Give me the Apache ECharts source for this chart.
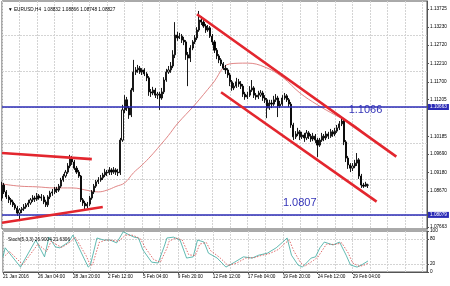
<!DOCTYPE html>
<html><head><meta charset="utf-8">
<script src="https://cdn.jsdelivr.net/npm/echarts@6/dist/echarts.min.js"></script>
<style>html,body{margin:0;padding:0;background:#fff}#c{width:450px;height:286px}</style>
</head><body><div id="c"></div>
<script>
// ---- data ----
const timeLabels = ['21 Jan 2016','26 Jan 04:00','28 Jan 20:00','2 Feb 12:00','5 Feb 04:00','9 Feb 20:00','12 Feb 12:00','17 Feb 04:00','19 Feb 20:00','24 Feb 12:00','29 Feb 04:00'];
const slotCount = 195; // bar slots incl. empty right margin
const opens = [
1.0847,1.0883,1.0864,1.0850,1.0842,1.0836,1.0828,1.0819,1.0805,1.0814,
1.0817,1.0822,1.0828,1.0833,1.0842,1.0847,1.0844,1.0853,1.0847,1.0850,
1.0836,1.0828,1.0850,1.0861,1.0864,1.0872,1.0869,1.0880,1.0897,1.0908,
1.0919,1.0936,1.0958,1.0947,1.0930,1.0919,1.0908,1.0842,1.0833,1.0825,
1.0830,1.0847,1.0864,1.0880,1.0892,1.0897,1.0903,1.0911,1.0919,1.0917,
1.0925,1.0919,1.0925,1.0919,1.0917,1.1008,1.1092,1.1120,1.1097,1.1078,
1.1147,1.1197,1.1203,1.1208,1.1197,1.1203,1.1192,1.1181,1.1142,1.1139,
1.1147,1.1133,1.1136,1.1125,1.1142,1.1175,1.1197,1.1203,1.1214,1.1245,
1.1300,1.1292,1.1297,1.1286,1.1281,1.1245,1.1236,1.1264,1.1281,1.1292,
1.1314,1.1342,1.1336,1.1325,1.1314,1.1320,1.1297,1.1281,1.1258,1.1242,
1.1231,1.1220,1.1208,1.1203,1.1189,1.1170,1.1153,1.1158,1.1170,1.1164,
1.1158,1.1136,1.1128,1.1133,1.1147,1.1153,1.1133,1.1128,1.1133,1.1139,
1.1125,1.1120,1.1097,1.1111,1.1108,1.1120,1.1125,1.1103,1.1108,1.1125,
1.1131,1.1120,1.1108,1.1050,1.1017,1.1025,1.1031,1.1017,1.1022,1.1014,
1.1028,1.1019,1.1011,1.1019,1.1008,1.0994,1.1008,1.1019,1.1014,1.1025,
1.1019,1.1031,1.1025,1.1033,1.1042,1.1053,1.1061,1.1003,1.0958,1.0939,
1.0930,1.0936,1.0944,1.0953,1.0908,1.0883,1.0880,1.08832];
const closes = [
1.0883,1.0864,1.0850,1.0842,1.0836,1.0828,1.0819,1.0805,1.0814,1.0817,
1.0822,1.0828,1.0833,1.0842,1.0847,1.0844,1.0853,1.0847,1.0850,1.0836,
1.0828,1.0850,1.0861,1.0864,1.0872,1.0869,1.0880,1.0897,1.0908,1.0919,
1.0936,1.0958,1.0947,1.0930,1.0919,1.0908,1.0842,1.0833,1.0825,1.0830,
1.0847,1.0864,1.0880,1.0892,1.0897,1.0903,1.0911,1.0919,1.0917,1.0925,
1.0919,1.0925,1.0919,1.0917,1.1008,1.1092,1.1120,1.1097,1.1078,1.1147,
1.1197,1.1203,1.1208,1.1197,1.1203,1.1192,1.1181,1.1142,1.1139,1.1147,
1.1133,1.1136,1.1125,1.1142,1.1175,1.1197,1.1203,1.1214,1.1245,1.1300,
1.1292,1.1297,1.1286,1.1281,1.1245,1.1236,1.1264,1.1281,1.1292,1.1314,
1.1342,1.1336,1.1325,1.1314,1.1320,1.1297,1.1281,1.1258,1.1242,1.1231,
1.1220,1.1208,1.1203,1.1189,1.1170,1.1153,1.1158,1.1170,1.1164,1.1158,
1.1136,1.1128,1.1133,1.1147,1.1153,1.1133,1.1128,1.1133,1.1139,1.1125,
1.1120,1.1097,1.1111,1.1108,1.1120,1.1125,1.1103,1.1108,1.1125,1.1131,
1.1120,1.1108,1.1050,1.1017,1.1025,1.1031,1.1017,1.1022,1.1014,1.1028,
1.1019,1.1011,1.1019,1.1008,1.0994,1.1008,1.1019,1.1014,1.1025,1.1019,
1.1031,1.1025,1.1033,1.1042,1.1053,1.1061,1.1003,1.0958,1.0939,1.0930,
1.0936,1.0944,1.0953,1.0908,1.0883,1.0880,1.0886,1.08827];
const lows = [
1.0839,1.0858,1.0844,1.0833,1.0828,1.0822,1.0814,1.0797,1.0786,1.0805,
1.0811,1.0817,1.0822,1.0828,1.0836,1.0836,1.0839,1.0842,1.0839,1.0830,
1.0822,1.0822,1.0844,1.0853,1.0858,1.0861,1.0864,1.0875,1.0892,1.0903,
1.0914,1.0930,1.0939,1.0925,1.0914,1.0903,1.0836,1.0825,1.0814,1.0819,
1.0825,1.0842,1.0858,1.0875,1.0886,1.0892,1.0897,1.0905,1.0908,1.0911,
1.0911,1.0914,1.0911,1.0908,1.0911,1.1003,1.1083,1.1089,1.1067,1.1072,
1.1142,1.1189,1.1195,1.1192,1.1189,1.1186,1.1172,1.1131,1.1128,1.1133,
1.1125,1.1122,1.1092,1.1120,1.1136,1.1170,1.1192,1.1195,1.1208,1.1236,
1.1284,1.1289,1.1278,1.1272,1.1231,1.1158,1.1225,1.1258,1.1275,1.1286,
1.1309,1.1328,1.1320,1.1306,1.1309,1.1292,1.1272,1.1250,1.1233,1.1222,
1.1214,1.1203,1.1192,1.1181,1.1158,1.1145,1.1147,1.1153,1.1156,1.1150,
1.1128,1.1120,1.1122,1.1128,1.1142,1.1125,1.1120,1.1122,1.1128,1.1117,
1.1111,1.1069,1.1092,1.1097,1.1103,1.1114,1.1072,1.1097,1.1103,1.1120,
1.1114,1.1100,1.1042,1.1008,1.1011,1.1019,1.1008,1.1011,1.1003,1.1008,
1.1011,1.1003,1.1005,1.1000,1.0961,1.0989,1.1003,1.1005,1.1008,1.1011,
1.1014,1.1017,1.1019,1.1028,1.1036,1.1047,1.0994,1.0947,1.0928,1.0919,
1.0922,1.0930,1.0936,1.0900,1.0875,1.0875,1.0878,1.08748];
const highs = [
1.0892,1.0889,1.0869,1.0855,1.0847,1.0842,1.0833,1.0825,1.0819,1.0822,
1.0830,1.0833,1.0842,1.0847,1.0855,1.0853,1.0861,1.0858,1.0858,1.0855,
1.0842,1.0855,1.0867,1.0872,1.0878,1.0878,1.0886,1.0903,1.0914,1.0925,
1.0944,1.0967,1.0964,1.0953,1.0936,1.0925,1.0911,1.0847,1.0839,1.0836,
1.0853,1.0869,1.0886,1.0897,1.0905,1.0911,1.0917,1.0928,1.0925,1.0933,
1.0930,1.0933,1.0930,1.0928,1.1014,1.1106,1.1133,1.1128,1.1103,1.1153,
1.1231,1.1211,1.1217,1.1214,1.1208,1.1208,1.1197,1.1186,1.1150,1.1156,
1.1153,1.1142,1.1142,1.1153,1.1183,1.1206,1.1214,1.1225,1.1258,1.1336,
1.1309,1.1306,1.1303,1.1295,1.1286,1.1253,1.1272,1.1286,1.1300,1.1322,
1.1367,1.1353,1.1345,1.1331,1.1328,1.1325,1.1303,1.1286,1.1264,1.1247,
1.1236,1.1225,1.1217,1.1208,1.1195,1.1175,1.1167,1.1181,1.1178,1.1172,
1.1164,1.1142,1.1142,1.1158,1.1175,1.1158,1.1139,1.1145,1.1147,1.1145,
1.1133,1.1125,1.1120,1.1120,1.1131,1.1136,1.1131,1.1117,1.1133,1.1139,
1.1136,1.1125,1.1114,1.1056,1.1033,1.1042,1.1036,1.1031,1.1028,1.1036,
1.1033,1.1025,1.1028,1.1025,1.1014,1.1014,1.1028,1.1025,1.1033,1.1031,
1.1039,1.1036,1.1042,1.1050,1.1061,1.1072,1.1067,1.1008,1.0964,1.0944,
1.0944,1.0953,1.0972,1.0958,1.0914,1.0889,1.0892,1.08866];
const maPoints = [[0,1.0886],[8,1.0880],[16,1.0878],[24,1.0875],[32,1.0875],[40,1.0867],[44,1.0864],[48,1.0869],[52,1.0879],[56,1.0889],[60,1.0917],[64,1.0939],[68,1.0964],[72,1.0992],[76,1.1021],[80,1.1053],[88,1.1106],[96,1.1164],[104,1.1220],[112,1.1222],[120,1.1211],[128,1.1183],[136,1.1139],[144,1.1106],[152,1.1078],[160,1.1053],[167,1.1019]];
const stochMain = [[0,37],[1,59],[8,12],[15,78],[19,37],[21,85],[24,61],[26,59],[30,73],[32,90],[37,34],[39,12],[40,17],[43,83],[46,78],[49,78],[52,71],[55,98],[58,90],[60,85],[62,83],[64,54],[68,24],[71,22],[74,66],[75,83],[78,85],[81,78],[84,34],[87,37],[89,78],[92,73],[94,46],[98,34],[102,12],[106,24],[110,37],[114,34],[117,41],[121,46],[125,59],[128,73],[130,83],[132,41],[135,17],[137,12],[141,34],[143,37],[145,59],[147,73],[151,66],[154,73],[157,41],[159,17],[162,12],[164,17],[167,26.9]];
const stochSignal = [[1,40],[3,50],[9,18],[16,68],[20,50],[22,75],[25,65],[27,60],[31,74],[33,85],[38,40],[40,16],[41,18],[44,72],[47,78],[50,77],[53,75],[56,90],[59,90],[61,86],[63,80],[65,60],[69,30],[72,24],[75,58],[76,75],[79,83],[82,78],[85,42],[88,40],[90,68],[93,72],[95,52],[99,36],[103,16],[107,22],[111,34],[115,35],[118,40],[122,45],[126,55],[129,70],[131,78],[133,52],[136,24],[138,14],[142,28],[144,36],[146,52],[148,68],[152,67],[155,71],[158,46],[160,22],[163,14],[165,16],[167,21.6]];
const priceTicks = [1.13725,1.13230,1.12720,1.12210,1.11700,1.11205,1.10185,1.09690,1.09180,1.08670,1.07663];
const priceGrid = [1.13725,1.13230,1.12720,1.12210,1.11700,1.11205,1.10695,1.10185,1.09690,1.09180,1.08670,1.08160,1.07663];
const levels = [1.10663, 1.08079];
const lastPrice = 1.08827;
const levelTexts = [{text:'1.1066', at:[158,1.1092]}, {text:'1.0807', at:[128,1.0833]}];
const trendLines = [[[0,1.0972],[41,1.0955]], [[0,1.0778],[46,1.0822]], [[89,1.1358],[180,1.0962]], [[100,1.1141],[171,1.0837]]];
const stochTicks = [0,20,80,100];
const stochLevels = [20,80];

// ---- chart ----
const FONT = '"Liberation Sans", Arial, sans-serif';
const FS = 4.7;
const gridColor = '#d4d4d4';
const cats = []; for (let i = 0; i < slotCount; i++) cats.push(String(i));
const ohlc = opens.map((o, i) => [o, closes[i], lows[i], highs[i]]);
const isLabelIdx = i => i % 16 === 0 && i / 16 < timeLabels.length;

const chart = echarts.init(document.getElementById('c'), null, {renderer: 'canvas'});
chart.setOption({
  animation: false,
  backgroundColor: '#ffffff',
  textStyle: {fontFamily: FONT},
  title: [
    {text: '▼ EURUSD,H4  1.08832 1.08866 1.08748 1.08827', left: 3, top: 2, textStyle: {fontSize: FS, fontWeight: 'normal', color: '#000', fontFamily: FONT}},
    {text: 'Stoch(5,3,3) 26.9004 21.6306', left: 3, top: 232, textStyle: {fontSize: FS, fontWeight: 'normal', color: '#000', fontFamily: FONT}}
  ],
  grid: [
    {left: 2, right: 23, top: 1, height: 228, show: true, borderColor: '#555', borderWidth: 1},
    {left: 2, right: 23, top: 231, height: 41, show: true, borderColor: '#555', borderWidth: 1}
  ],
  xAxis: [
    {type: 'category', gridIndex: 0, data: cats, boundaryGap: false,
     axisLine: {show: false}, axisTick: {show: false}, axisLabel: {show: false},
     splitLine: {show: true, interval: i => i % 8 === 0, lineStyle: {color: gridColor, type: [2, 1], width: 1}}},
    {type: 'category', gridIndex: 1, data: cats, boundaryGap: false,
     axisLine: {show: true, lineStyle: {color: '#555'}},
     axisTick: {show: true, interval: isLabelIdx, length: 2, lineStyle: {color: '#555'}},
     axisLabel: {show: true, interval: isLabelIdx, formatter: v => timeLabels[Number(v) / 16] || '', fontSize: FS, color: '#000', align: 'left', margin: 2, fontFamily: FONT},
     splitLine: {show: true, interval: i => i % 8 === 0, lineStyle: {color: gridColor, type: [2, 1], width: 1}}}
  ],
  yAxis: [
    {type: 'value', gridIndex: 0, position: 'right', min: 1.07608, max: 1.13947,
     axisLine: {show: true, lineStyle: {color: '#555'}},
     axisTick: {show: true, customValues: priceTicks, length: 2, lineStyle: {color: '#555'}},
     axisLabel: {show: true, customValues: priceTicks, formatter: v => v.toFixed(5), fontSize: FS, color: '#000', margin: 3, fontFamily: FONT},
     splitLine: {show: false}},
    {type: 'value', gridIndex: 1, position: 'right', min: 0, max: 100,
     axisLine: {show: true, lineStyle: {color: '#555'}},
     axisTick: {show: true, customValues: stochTicks, length: 2, lineStyle: {color: '#555'}},
     axisLabel: {show: true, customValues: stochTicks, showMinLabel: true, showMaxLabel: true, fontSize: FS, color: '#000', margin: 3, fontFamily: FONT,
       formatter: v => String(v)},
     splitLine: {show: false}}
  ],
  series: [
    {type: 'line', name: 'MA', xAxisIndex: 0, yAxisIndex: 0, data: maPoints, smooth: 0.4, showSymbol: false, symbol: 'none', z: 2,
     lineStyle: {color: '#dc7878', width: 0.9},
     markLine: {silent: true, z: 1, symbol: ['none', 'none'], label: {show: false},
       lineStyle: {color: gridColor, type: [2, 1], width: 1},
       data: priceGrid.map(v => ({yAxis: v}))}},
    {type: 'candlestick', name: 'EURUSD', xAxisIndex: 0, yAxisIndex: 0, data: ohlc, barWidth: 1.6, z: 3,
     itemStyle: {color: '#ffffff', color0: '#000000', borderColor: '#000000', borderColor0: '#000000', borderWidth: 0.9},
     markLine: {silent: true, z: 6, symbol: ['none', 'none'], animation: false,
       data: [
         ...levels.map(v => ({yAxis: v, lineStyle: {color: '#2b2bb6', width: 1.6, type: 'solid'},
           label: {show: true, position: 'end', distance: 1, formatter: v.toFixed(5), backgroundColor: '#2b2bb6', color: '#fff', fontSize: FS, padding: [1, 2, 0, 2], fontFamily: FONT}})),
         {yAxis: lastPrice, lineStyle: {opacity: 0, width: 0},
           label: {show: true, position: 'end', distance: 1, formatter: lastPrice.toFixed(5), backgroundColor: '#000', color: '#fff', fontSize: FS, padding: [1, 2, 0, 2], fontFamily: FONT}},
         ...trendLines.map(l => [
           {coord: l[0], lineStyle: {color: '#e3262e', width: 2.6, type: 'solid'}, label: {show: false}},
           {coord: l[1]}])
       ]},
     markPoint: {silent: true, symbol: 'circle', symbolSize: 1, itemStyle: {color: 'rgba(0,0,0,0)'},
       label: {show: true, position: 'right', distance: 0, formatter: '{b}', color: '#3434b8', fontSize: 11, fontFamily: FONT},
       data: levelTexts.map(t => ({name: t.text, coord: t.at}))}},
    {type: 'line', name: 'Stoch', xAxisIndex: 1, yAxisIndex: 1, data: stochMain, showSymbol: false, symbol: 'none', z: 3,
     lineStyle: {color: '#3aa89e', width: 0.8},
     markLine: {silent: true, z: 1, symbol: ['none', 'none'], label: {show: false},
       lineStyle: {color: gridColor, type: [2, 1], width: 1},
       data: stochLevels.map(v => ({yAxis: v}))}},
    {type: 'line', name: 'Signal', xAxisIndex: 1, yAxisIndex: 1, data: stochSignal, showSymbol: false, symbol: 'none', z: 3,
     lineStyle: {color: '#d84848', width: 0.8, type: [1.5, 1.5]}}
  ]
});
</script>
</body></html>
